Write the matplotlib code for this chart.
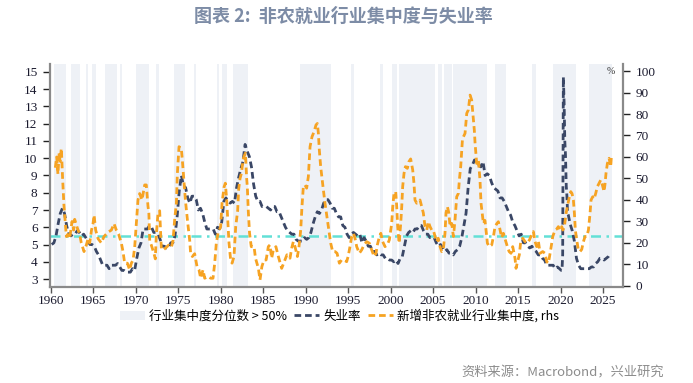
import numpy as np
import matplotlib
matplotlib.use('Agg')
import matplotlib.pyplot as plt
from matplotlib.patches import Patch
from matplotlib.lines import Line2D

plt.rcParams['font.family'] = ['Noto Sans CJK SC', 'DejaVu Sans']

# ---------------------------------------------------------------------------
# Data
# ---------------------------------------------------------------------------
# US unemployment rate, quarterly points 1960Q1 .. 2025Q4 (2020 handled below)
unemp_qtr = [
    5.0, 5.1, 5.5, 6.2,   6.8, 7.1, 6.8, 6.1,   5.6, 5.5, 5.6, 5.6,   5.8, 5.7, 5.5, 5.6,
    5.4, 5.2, 5.0, 5.0,   4.9, 4.6, 4.4, 4.1,   3.8, 3.8, 3.8, 3.6,   3.8, 3.8, 3.8, 3.9,
    3.7, 3.5, 3.5, 3.4,   3.4, 3.4, 3.6, 3.5,   4.2, 4.8, 5.1, 5.9,   5.9, 5.9, 6.1, 6.0,
    5.7, 5.7, 5.6, 5.3,   4.9, 4.9, 4.8, 4.8,   5.1, 5.1, 5.5, 6.6,   8.1, 9.0, 8.4, 8.3,
    7.7, 7.4, 7.8, 7.8,   7.6, 7.0, 7.1, 6.8,   6.3, 5.9, 5.9, 5.9,   5.9, 5.6, 6.0, 5.9,
    6.3, 7.5, 7.7, 7.5,   7.4, 7.5, 7.4, 8.3,   8.9, 9.4, 9.8, 10.8,  10.4, 10.1, 9.5, 8.5,
    7.8, 7.5, 7.5, 7.2,   7.2, 7.2, 7.1, 7.0,   7.2, 7.2, 6.9, 6.9,   6.6, 6.3, 6.0, 5.8,
    5.7, 5.6, 5.6, 5.3,   5.2, 5.2, 5.2, 5.4,   5.3, 5.4, 5.7, 6.2,   6.6, 6.9, 6.8, 7.0,
    7.4, 7.6, 7.6, 7.4,   7.1, 7.1, 6.8, 6.6,   6.6, 6.1, 6.0, 5.6,   5.4, 5.6, 5.7, 5.6,
    5.5, 5.6, 5.1, 5.4,   5.2, 4.9, 4.9, 4.6,   4.6, 4.4, 4.5, 4.4,   4.4, 4.2, 4.2, 4.1,
    4.1, 4.0, 4.1, 3.9,   4.2, 4.3, 4.9, 5.5,   5.7, 5.8, 5.7, 5.9,   5.9, 6.1, 6.1, 5.8,
    5.6, 5.6, 5.4, 5.4,   5.4, 5.1, 4.9, 5.0,   4.8, 4.6, 4.7, 4.5,   4.5, 4.4, 4.6, 4.7,
    4.9, 5.4, 6.1, 6.8,   8.3, 9.4, 9.6, 9.9,   9.8, 9.6, 9.5, 9.8,   9.0, 9.1, 9.0, 8.6,
    8.3, 8.2, 8.1, 7.7,   7.7, 7.5, 7.2, 6.9,   6.7, 6.3, 6.1, 5.8,   5.5, 5.6, 5.1, 5.1,
    4.9, 4.8, 4.9, 4.7,   4.6, 4.4, 4.4, 4.2,   4.1, 3.8, 3.8, 3.8,   3.8, 3.6, 3.7, 3.6,
    np.nan, np.nan, np.nan, np.nan,
    6.2, 5.8, 5.2, 4.2,   3.8, 3.6, 3.6, 3.6,   3.6, 3.6, 3.7, 3.7,   3.9, 4.0, 4.2, 4.2,
    4.1, 4.2, 4.3, 4.5,
]
# 2020 monthly spike
unemp_2020_t = [2020.08, 2020.17, 2020.25, 2020.33, 2020.42, 2020.5, 2020.58, 2020.67, 2020.75, 2020.83, 2020.92]
unemp_2020_v = [3.5, 3.5, 4.4, 14.7, 13.2, 11.0, 10.2, 8.4, 7.8, 6.8, 6.7]

# New nonfarm payroll industry concentration (rhs, %)
conc_t = [
    1960.54, 1960.7, 1960.85, 1961.0, 1961.1, 1961.25, 1961.4, 1961.55, 1961.7, 1961.84,
    1962.0, 1962.23, 1962.51, 1962.7, 1962.82, 1963.13, 1963.41, 1963.6, 1963.92, 1964.19,
    1964.4, 1964.59, 1964.8, 1964.98, 1965.1, 1965.29, 1965.57, 1965.96, 1966.27, 1966.5,
    1966.74, 1967.14, 1967.45, 1967.72, 1968.0, 1968.31, 1968.51, 1968.7, 1969.02, 1969.29,
    1969.49, 1969.69, 1969.88, 1970.08, 1970.27, 1970.47, 1970.74, 1971.06, 1971.25, 1971.45,
    1971.55, 1971.65, 1971.84, 1972.16, 1972.31, 1972.43, 1972.63, 1972.82, 1973.02, 1973.33,
    1973.61, 1973.88, 1974.2, 1974.39, 1974.59, 1974.79, 1974.9, 1975.1, 1975.37, 1975.49,
    1975.69, 1975.85, 1976.08, 1976.36, 1976.47, 1976.67, 1976.94, 1977.22, 1977.45, 1977.65,
    1977.92, 1978.12, 1978.51, 1978.83, 1979.1, 1979.3, 1979.49, 1979.69, 1980.0, 1980.16,
    1980.4, 1980.55, 1980.71, 1980.87, 1980.98, 1981.18, 1981.34, 1981.57, 1981.77, 1982.0,
    1982.12, 1982.28, 1982.44, 1982.63, 1982.75, 1982.91, 1983.06, 1983.14, 1983.25, 1983.4,
    1983.6, 1983.93, 1984.1, 1984.44, 1984.63, 1984.85, 1985.1, 1985.35, 1985.61, 1985.8,
    1986.0, 1986.2, 1986.5, 1986.79, 1987.18, 1987.57, 1987.8, 1988.16, 1988.36, 1988.55,
    1988.75, 1989.03, 1989.2, 1989.42, 1989.57, 1989.73, 1989.92, 1990.12, 1990.32, 1990.52,
    1990.75, 1990.99, 1991.22, 1991.38, 1991.5, 1991.61, 1991.77, 1991.9, 1992.09, 1992.28,
    1992.56, 1992.79, 1992.95, 1993.18, 1993.46, 1993.7, 1993.97, 1994.24, 1994.5, 1994.83,
    1995.0, 1995.22, 1995.42, 1995.62, 1995.81, 1996.01, 1996.32, 1996.6, 1996.87, 1997.19,
    1997.5, 1997.78, 1998.05, 1998.28, 1998.44, 1998.68, 1998.85, 1999.07, 1999.34, 1999.6,
    1999.85, 2000.13, 2000.25, 2000.4, 2000.6, 2000.72, 2000.83, 2001.0, 2001.19, 2001.31,
    2001.42, 2001.58, 2001.74, 2001.97, 2002.15, 2002.36, 2002.6, 2002.75, 2002.87, 2003.07,
    2003.46, 2003.65, 2003.85, 2004.05, 2004.25, 2004.44, 2004.64, 2004.84, 2005.03, 2005.23,
    2005.42, 2005.6, 2005.82, 2006.01, 2006.2, 2006.4, 2006.52, 2006.68, 2006.85, 2007.0,
    2007.19, 2007.39, 2007.58, 2007.78, 2007.98, 2008.09, 2008.25, 2008.45, 2008.57, 2008.76,
    2008.96, 2009.15, 2009.35, 2009.54, 2009.74, 2009.85, 2009.94, 2010.13, 2010.33, 2010.52,
    2010.64, 2010.78, 2010.92, 2011.1, 2011.23, 2011.39, 2011.62, 2011.9, 2012.1, 2012.29,
    2012.5, 2012.68, 2012.88, 2013.07, 2013.27, 2013.5, 2013.74, 2013.95, 2014.17, 2014.37,
    2014.64, 2014.76, 2014.92, 2015.15, 2015.31, 2015.55, 2015.82, 2016.1, 2016.35, 2016.6,
    2016.8, 2017.0, 2017.2, 2017.4, 2017.59, 2017.9, 2018.17, 2018.37, 2018.57, 2018.84,
    2019.08, 2019.35, 2019.55, 2019.74, 2019.94, 2020.14, 2020.27, 2020.45, 2020.65, 2020.8,
    2021.04, 2021.2, 2021.35, 2021.51, 2021.63, 2021.74, 2021.9, 2022.1, 2022.29, 2022.49,
    2022.69, 2022.88, 2023.08, 2023.28, 2023.47, 2023.59, 2023.78, 2023.95, 2024.14, 2024.33,
    2024.53, 2024.73, 2024.92, 2025.12, 2025.22, 2025.35, 2025.51, 2025.71, 2025.9, 2025.98,
]
conc_v = [
    55, 60, 52, 62, 58, 64, 50, 38, 30, 23,
    24, 22, 30, 26, 31, 27, 24, 20, 16, 19,
    22, 20, 26, 29, 33, 26, 22, 20, 23, 24,
    25, 26, 29, 26, 24, 20, 16, 10.6, 10.6, 7.5,
    10.6, 12, 18, 29, 40, 43, 40, 47, 47, 37,
    34, 21, 19, 15, 12.6, 24, 34, 35, 17, 17,
    18, 19, 18, 21, 31, 38.5, 52, 64.8, 64, 58.6,
    48, 40, 31, 21, 15, 13.7, 15, 9, 7.5, 3.6,
    7.5, 3.6, 4.4, 3.6, 3.6, 10.6, 20, 24.5, 27.6, 38.5,
    46, 47.8, 40, 27.6, 20, 12, 10.6, 13.7, 27.6, 35,
    45, 50, 52.4, 58.6, 60.2, 61.8, 50, 46, 35, 24.5,
    18.3, 18.3, 12.9, 8.2, 2.8, 9, 12.1, 12.1, 18.3, 19.1,
    12.9, 16.8, 18.3, 13.7, 8.2, 12.1, 14.5, 12.9, 17.6, 20.6,
    18.3, 13.7, 17.6, 26, 36.9, 46.2, 47, 45.5, 50.9, 64.8,
    69.4, 71.8, 74.9, 75.6, 71, 63.3, 55.5, 50.9, 44.6, 38.5,
    30.7, 24.5, 19.9, 16, 16, 15.2, 10.6, 12.1, 12.1, 11.3,
    13.7, 18.3, 23, 24.5, 22.2, 18.3, 15.2, 16.8, 19.1, 20.6,
    19.9, 16.8, 13.7, 15.2, 19.1, 23, 24.5, 20.6, 18.3, 19.1,
    21.4, 29.1, 36.9, 43.1, 43.9, 36.9, 27.6, 19.9, 29.1, 36.9,
    46.2, 52.4, 55.5, 54.7, 57.8, 59.1, 54, 47.8, 40, 38.5,
    40, 37, 34, 27.6, 26, 29.9, 27.6, 26, 26, 23,
    20.6, 22.2, 18.3, 16, 16.8, 24.5, 34, 36.9, 34, 27.6,
    29.1, 23, 30.7, 41.5, 43.1, 49.3, 55.5, 67.9, 69.4, 71,
    80.3, 81.9, 88.8, 86.5, 77.2, 72.6, 66.4, 57, 58.6, 49.3,
    38.5, 33.8, 29.1, 30.5, 26, 19.9, 18.3, 19.1, 23, 27.6,
    29, 29.9, 26, 22.5, 24.5, 21.5, 18.3, 16, 15.2, 18.3,
    12.9, 8.2, 11, 14.5, 20.6, 22.2, 20.6, 19.9, 21.5, 23.8,
    25.3, 20.6, 18.3, 20.6, 15.2, 16, 15.2, 11.3, 10.6, 16.8,
    23, 26, 26.5, 27.6, 26, 27.6, 26, 27.6, 33.8, 36.9,
    41.5, 43.9, 43, 40, 33.8, 26, 21.4, 16.8, 16, 17,
    20.6, 23, 23, 26, 33.8, 40, 41.5, 40.5, 43.1, 46.2,
    47.8, 49.3, 47, 43.9, 47, 52.4, 57, 59.4, 55.5, 60,
]

# Periods when industry concentration percentile > 50%
shade_start = [1960.4, 1962.35, 1964.1, 1964.8, 1966.4, 1968.1, 1970.0, 1972.4, 1974.5,
               1976.85, 1979.55, 1980.1, 1981.5, 1989.35, 1995.35, 1998.75, 2000.2,
               2000.95, 2005.6, 2006.3, 2007.4, 2012.3, 2016.6, 2019.1, 2023.3]
shade_end = [1961.85, 1963.5, 1964.35, 1965.3, 1967.8, 1968.35, 1971.55, 1972.7, 1975.8,
             1977.05, 1979.85, 1980.8, 1983.2, 1993.0, 1995.7, 1999.1, 2000.7,
             2005.2, 2006.05, 2007.2, 2011.4, 2013.55, 2017.15, 2021.8, 2026.0]

threshold = 5.5  # reference line, left axis

title = '图表 2:  非农就业行业集中度与失业率'
source = '资料来源：Macrobond，兴业研究'
legend_labels = ['行业集中度分位数 > 50%', '失业率', '新增非农就业行业集中度, rhs']

# colours
c_shade = '#eef1f6'
c_unemp = '#3a4766'
c_conc = '#f6a323'
c_ref = '#62e0d6'
c_spine = '#8a8a8a'

# ---------------------------------------------------------------------------
# Build unemployment series
# ---------------------------------------------------------------------------
unemp_t = 1960.125 + 0.25 * np.arange(len(unemp_qtr))
unemp_v = np.array(unemp_qtr, dtype=float)
mask = ~np.isnan(unemp_v)
unemp_t = np.concatenate([unemp_t[mask], unemp_2020_t])
unemp_v = np.concatenate([unemp_v[mask], unemp_2020_v])
order = np.argsort(unemp_t)
unemp_t, unemp_v = unemp_t[order], unemp_v[order]

# ---------------------------------------------------------------------------
# Figure
# ---------------------------------------------------------------------------
fig = plt.figure(figsize=(6.93, 3.83), dpi=100)
ax = fig.add_axes([0.0722, 0.2507, 0.8268, 0.5822])
ax2 = ax.twinx()

for s, e in zip(shade_start, shade_end):
    ax.axvspan(s, e, color=c_shade, lw=0, zorder=0)

ax.axhline(threshold, color=c_ref, lw=1.8, linestyle=(0, (4, 2.2, 1, 2.2)), zorder=2)
ax.plot(unemp_t, unemp_v, color=c_unemp, lw=2.0, dashes=(2.4, 1.4), zorder=3)
ax2.plot(conc_t, conc_v, color=c_conc, lw=2.0, dashes=(2.4, 1.4), zorder=3)

ax.set_xlim(1959.92, 2027.35)
ax.set_ylim(2.54, 15.46)
ax2.set_ylim(-0.47, 103.26)

ax.set_xticks(np.arange(1960, 2030, 5))
ax.set_yticks(np.arange(3, 16, 1))
ax2.set_yticks(np.arange(0, 101, 10))

tick_font = dict(family='Liberation Serif', size=9.5)
for lab in ax.get_xticklabels() + ax.get_yticklabels() + ax2.get_yticklabels():
    lab.set_fontfamily(tick_font['family'])
    lab.set_fontsize(tick_font['size'])
    lab.set_color('#1a1a2e')

ax.tick_params(axis='y', direction='out', length=5, width=1.0, pad=4, color='#222222')
ax.tick_params(axis='x', direction='out', length=4, width=1.0, pad=2, color='#555555')
ax2.tick_params(axis='y', direction='out', length=5, width=1.0, pad=4, color='#222222')

for a in (ax, ax2):
    a.spines['top'].set_visible(False)
ax.spines['right'].set_visible(False)
ax2.spines['left'].set_visible(False)
ax2.spines['bottom'].set_visible(False)
for sp in (ax.spines['left'], ax.spines['bottom'], ax2.spines['right']):
    sp.set_color(c_spine)
    sp.set_linewidth(1.6)

ax2.text(0.985, 0.965, '%', transform=ax.transAxes, fontsize=7, ha='right', va='center',
         family='Liberation Serif', color='#333333')

# title and source
fig.text(0.495, 0.958, title, ha='center', va='center', fontsize=13, fontweight='bold',
         color='#7d8ca6')
fig.text(0.958, 0.027, source, ha='right', va='center', fontsize=9.5, color='#8c8c8c')

handles = [
    Patch(facecolor=c_shade, edgecolor='none'),
    Line2D([], [], color=c_unemp, lw=2.0, dashes=(2.4, 1.4)),
    Line2D([], [], color=c_conc, lw=2.0, dashes=(2.4, 1.4)),
]
fig.legend(handles, legend_labels, loc='center', bbox_to_anchor=(0.49, 0.175), ncol=3,
           frameon=False, fontsize=9, handlelength=2.0, handleheight=0.8,
           handletextpad=0.3, columnspacing=0.6)

plt.savefig('out.png', dpi=100)
